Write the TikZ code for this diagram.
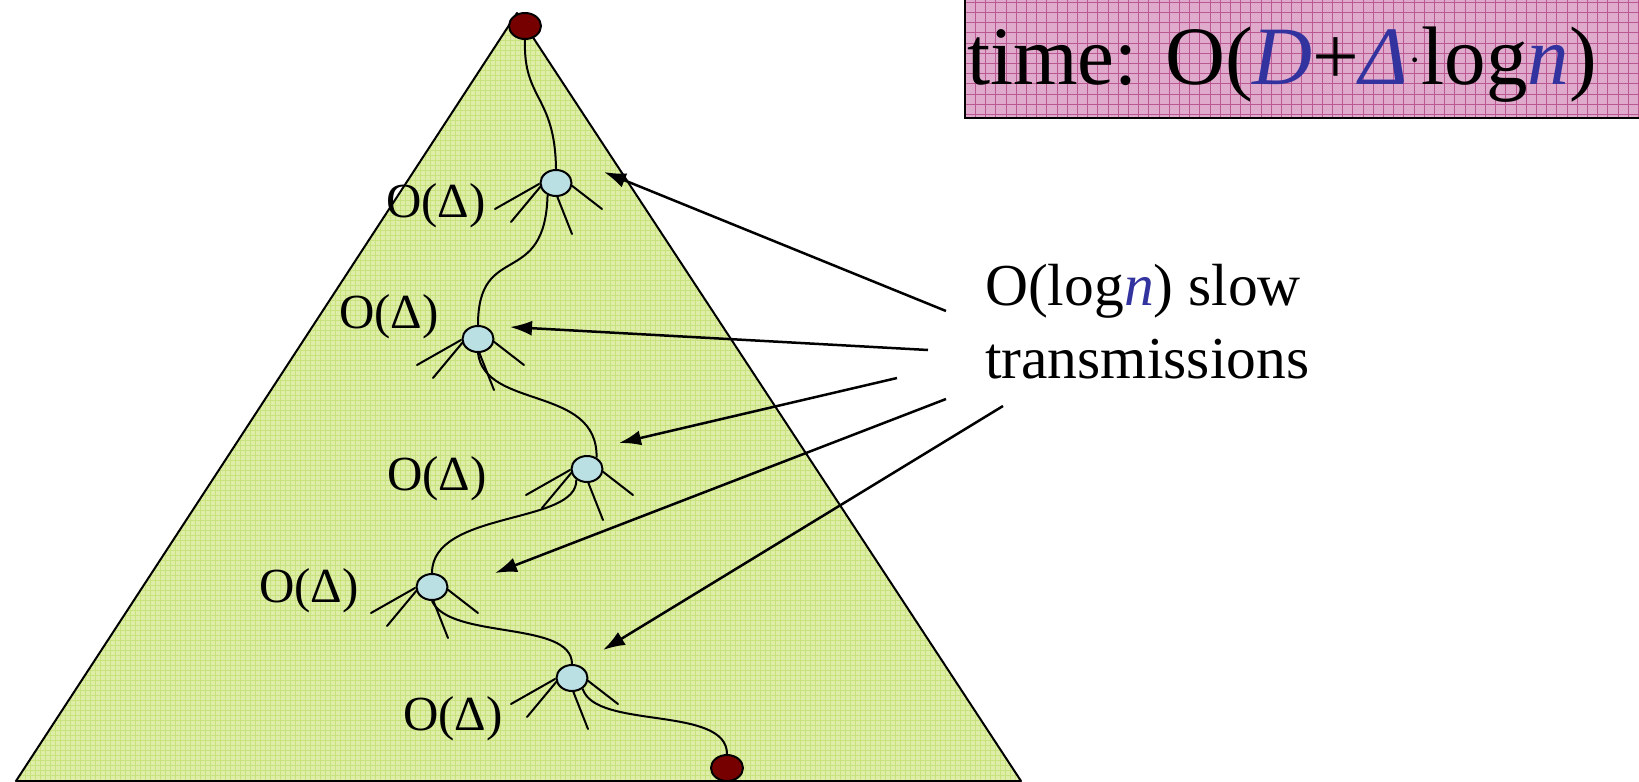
\documentclass[tikz,border=0pt]{standalone}
\usepackage{fontspec}
\setmainfont{Liberation Serif}
\usetikzlibrary{shapes.geometric,arrows.meta,calc}
\definecolor{tri}{RGB}{222,238,168}
\definecolor{trigrid}{RGB}{200,226,126}
\definecolor{boxfill}{RGB}{224,170,204}
\definecolor{boxgrid}{RGB}{186,88,146}
\definecolor{rootred}{RGB}{118,0,0}
\definecolor{nodeblue}{RGB}{186,224,228}
\definecolor{tblue}{RGB}{51,51,160}
\tikzset{
  endpt/.style={ellipse,draw=black,line width=2pt,fill=rootred,minimum width=32pt,minimum height=26pt,inner sep=0pt},
  relay/.style={ellipse,draw=black,line width=2pt,fill=nodeblue,minimum width=31pt,minimum height=26pt,inner sep=0pt},
  spoke/.style={line width=2pt,line cap=round},
  hop/.style={line width=2pt},
  deltalbl/.style={anchor=base,inner sep=0pt,font=\fontsize{49}{50}\selectfont},
  slowtxt/.style={anchor=base west,inner sep=0pt,font=\fontsize{59.5}{60}\selectfont},
  pointer/.style={line width=2.5pt,-{Latex[length=22pt,width=15pt]}}
}
\begin{document}
\begin{tikzpicture}[x=1pt,y=-1pt]
\useasboundingbox (0,0) rectangle (1639,782);
% pyramid
\fill[tri] (517,13) -- (1021,781) -- (16,781) -- cycle;
\begin{scope}
\clip (517,13) -- (1021,781) -- (16,781) -- cycle;
\foreach \x in {0,5,...,1030} \draw[trigrid,line width=0.7pt] (\x,0) -- (\x,790);
\foreach \y in {0,5,...,790} \draw[trigrid,line width=0.7pt] (0,\y) -- (1030,\y);
\end{scope}
\draw[line width=2pt,line join=round] (517,13) -- (1021,781) -- (16,781) -- cycle;
% time box
\fill[boxfill] (965,-3) rectangle (1645,118);
\begin{scope}
\clip (965,-3) rectangle (1645,118);
\foreach \x in {965,975.2,...,1645} \draw[boxgrid,line width=0.6pt] (\x,-3) -- (\x,118);
\foreach \y in {2,12.2,...,118} \draw[boxgrid,line width=0.6pt] (965,\y) -- (1645,\y);
\end{scope}
\draw[line width=2pt] (965,-3) -- (965,118) -- (1645,118);
\node[anchor=base,inner sep=0pt,font=\fontsize{83}{84}\selectfont] (tbox) at (1282,84)
  {time: O(\textcolor{tblue}{\itshape D}+\textcolor{tblue}{\itshape Δ}\raisebox{11pt}{\fontsize{40}{40}\selectfont·}log\textcolor{tblue}{\itshape n})};
% nodes
\node[endpt] (root) at (525,26) {};
\node[relay] (n1) at (556,183) {};
\node[relay] (n2) at (478,339) {};
\node[relay] (n3) at (587,469) {};
\node[relay] (n4) at (432,587) {};
\node[relay] (n5) at (572,678) {};
\node[endpt] (leaf) at (727,768) {};
% path hops
\draw[hop] (root.south) .. controls (523,100) and (555,95) .. (n1.north);
\draw[hop] (n1.235) .. controls (545,290) and (478,240) .. (n2.north);
\draw[hop] (n2.south) .. controls (485,410) and (598,385) .. (n3.50);
\draw[hop] (n3.225) .. controls (578,525) and (432,510) .. (n4.north);
\draw[hop] (n4.south) .. controls (450,640) and (572,620) .. (n5.north);
\draw[hop] (n5.-45) .. controls (595,730) and (727,705) .. (leaf.north);
% spokes
\foreach \n in {n1,n2,n3,n4,n5}{
  \draw[spoke] ($(\n)+(-17,1)$) -- ($(\n)+(-61,26)$);
  \draw[spoke] ($(\n)+(-15,3)$) -- ($(\n)+(-45,39)$);
  \draw[spoke] ($(\n)+(1,13)$) -- ($(\n)+(16,51)$);
  \draw[spoke] ($(\n)+(15,2)$) -- ($(\n)+(46,26)$);
}
% labels
\node[deltalbl] (d1) at (436,217) {O(Δ)};
\node[deltalbl] (d2) at (389,328) {O(Δ)};
\node[deltalbl] (d3) at (437,490) {O(Δ)};
\node[deltalbl] (d4) at (309,602) {O(Δ)};
\node[deltalbl] (d5) at (453,730) {O(Δ)};
% slow transmissions
\node[slowtxt] (slow1) at (985,305) {O(log\textcolor{tblue}{\itshape n}) slow};
\node[slowtxt] (slow2) at (985,378) {transmissions};
\coordinate (s1) at (946,311); \coordinate (t1) at (604,172);
\coordinate (s2) at (928,350); \coordinate (t2) at (510,327);
\coordinate (s3) at (897,378); \coordinate (t3) at (619,443);
\coordinate (s4) at (946,399); \coordinate (t4) at (495,573);
\coordinate (s5) at (1003,406); \coordinate (t5) at (603,650);
\foreach \i in {1,...,5} \draw[pointer] (s\i) -- (t\i);
\end{tikzpicture}
\end{document}
